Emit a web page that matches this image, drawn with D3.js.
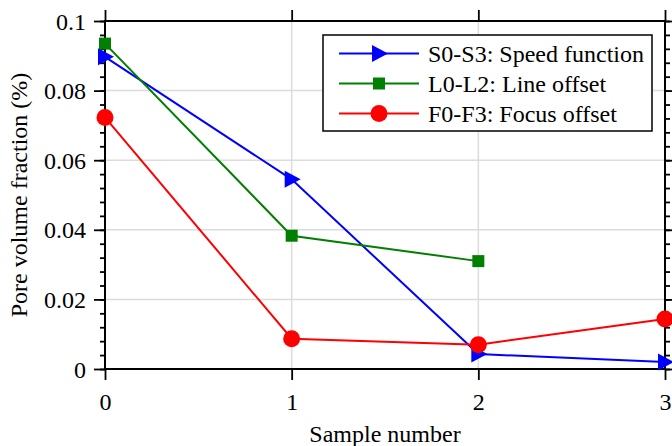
<!DOCTYPE html>
<html>
<head>
<meta charset="utf-8">
<script src="https://cdn.jsdelivr.net/npm/d3@7"></script>
<style>
  body { margin: 0; background: #fff; }
  text { font-family: "Liberation Serif", "Times New Roman", serif; fill: #000; }
</style>
</head>
<body>
<div id="chart"></div>
<script>
// data
var samples = [0, 1, 2, 3];
var speedValues = [0.0897, 0.0545, 0.0043, 0.0020];
var lineValues = [0.0935, 0.0383, 0.0310];
var focusValues = [0.0723, 0.0087, 0.0070, 0.0144];
var yTicks = [0, 0.02, 0.04, 0.06, 0.08, 0.1];
var yTickLabels = ["0", "0.02", "0.04", "0.06", "0.08", "0.1"];
var seriesNames = ["S0-S3: Speed function", "L0-L2: Line offset", "F0-F3: Focus offset"];

var width = 672, height = 446;
var margin = {top: 21, right: 7, bottom: 77, left: 105};

var svg = d3.select("#chart").append("svg")
	.attr("width", width)
	.attr("height", height);

var x = d3.scaleLinear().domain([0, 3]).range([margin.left, width - margin.right]);
var y = d3.scaleLinear().domain([0, 0.1]).range([height - margin.bottom, margin.top]);

var series = [
	{name: seriesNames[0], values: speedValues, color: "#0000ff", marker: "tri"},
	{name: seriesNames[1], values: lineValues, color: "#008000", marker: "sq"},
	{name: seriesNames[2], values: focusValues, color: "#ff0000", marker: "dot"}
];

// grid
var grid = svg.append("g").attr("stroke", "#dcdcdc").attr("stroke-width", 1.5);
grid.selectAll(".gy").data(yTicks.slice(1, -1)).enter().append("line")
	.attr("x1", x(0)).attr("x2", x(3))
	.attr("y1", function(d) { return y(d); }).attr("y2", function(d) { return y(d); });
grid.selectAll(".gx").data(samples.slice(1, -1)).enter().append("line")
	.attr("y1", y(0)).attr("y2", y(0.1))
	.attr("x1", function(d) { return x(d); }).attr("x2", function(d) { return x(d); });

// axes
var minor = d3.range(0, 0.1001, 0.004);
function addAxis(axis, tr, vals, size) {
	return svg.append("g")
		.attr("transform", tr)
		.call(axis.tickValues(vals).tickSize(size).tickFormat(""))
		.call(function(g) {
			g.select(".domain").remove();
			g.selectAll("line").attr("stroke", "#000").attr("stroke-width", 1.8);
		});
}
addAxis(d3.axisLeft(y), "translate(" + x(0) + ",0)", minor, 5);
addAxis(d3.axisRight(y), "translate(" + x(3) + ",0)", minor, 5);
var yl = addAxis(d3.axisLeft(y), "translate(" + x(0) + ",0)", yTicks, 11);
addAxis(d3.axisRight(y), "translate(" + x(3) + ",0)", yTicks, 11);
var xb = addAxis(d3.axisBottom(x), "translate(0," + y(0) + ")", samples, 11);
addAxis(d3.axisTop(x), "translate(0," + y(0.1) + ")", samples, 11);

yl.selectAll(".tick").append("text")
	.attr("x", -19).attr("dy", "0.34em")
	.attr("text-anchor", "end")
	.style("font-size", "24px")
	.text(function(d, i) { return yTickLabels[i]; });
xb.selectAll(".tick").append("text")
	.attr("y", 41)
	.attr("text-anchor", "middle")
	.style("font-size", "24px")
	.text(function(d) { return d; });

// frame
svg.append("rect")
	.attr("x", x(0)).attr("y", y(0.1))
	.attr("width", x(3) - x(0)).attr("height", y(0) - y(0.1))
	.attr("fill", "none").attr("stroke", "#000").attr("stroke-width", 2);

// lines and markers
var line = d3.line()
	.x(function(d, i) { return x(samples[i]); })
	.y(function(d) { return y(d); });

function drawMarker(g, type, color) {
	if (type === "tri") {
		g.append("path").attr("d", "M-7,-8.5L9,0L-7,8.5Z").attr("fill", color);
	} else if (type === "sq") {
		g.append("rect").attr("x", -6).attr("y", -6).attr("width", 12).attr("height", 12).attr("fill", color);
	} else {
		g.append("circle").attr("r", 8.5).attr("fill", color);
	}
}

series.forEach(function(s) {
	svg.append("path")
		.datum(s.values)
		.attr("d", line)
		.attr("fill", "none")
		.attr("stroke", s.color)
		.attr("stroke-width", 2);
	svg.selectAll(null).data(s.values).enter().append("g")
		.attr("transform", function(d, i) { return "translate(" + x(samples[i]) + "," + y(d) + ")"; })
		.each(function() { drawMarker(d3.select(this), s.marker, s.color); });
});

// legend
var legend = svg.append("g").attr("transform", "translate(323,35)");
legend.append("rect")
	.attr("width", 329).attr("height", 96)
	.attr("fill", "#fff").attr("stroke", "#000").attr("stroke-width", 1.5);
var item = legend.selectAll(".item").data(series).enter().append("g")
	.attr("transform", function(d, i) { return "translate(0," + (18.5 + i * 30) + ")"; });
item.append("line")
	.attr("x1", 16).attr("x2", 96)
	.attr("stroke", function(d) { return d.color; })
	.attr("stroke-width", 2);
item.append("g")
	.attr("transform", "translate(56,0)")
	.each(function(d) { drawMarker(d3.select(this), d.marker, d.color); });
item.append("text")
	.attr("x", 105).attr("dy", "0.34em")
	.style("font-size", "24px")
	.text(function(d) { return d.name; });

// axis titles
svg.append("text")
	.attr("x", (x(0) + x(3)) / 2).attr("y", 442)
	.attr("text-anchor", "middle")
	.style("font-size", "24px")
	.text("Sample number");
svg.append("text")
	.attr("transform", "translate(27," + ((y(0) + y(0.1)) / 2) + ") rotate(-90)")
	.attr("text-anchor", "middle")
	.style("font-size", "24px")
	.text("Pore volume fraction (%)");
</script>
</body>
</html>
